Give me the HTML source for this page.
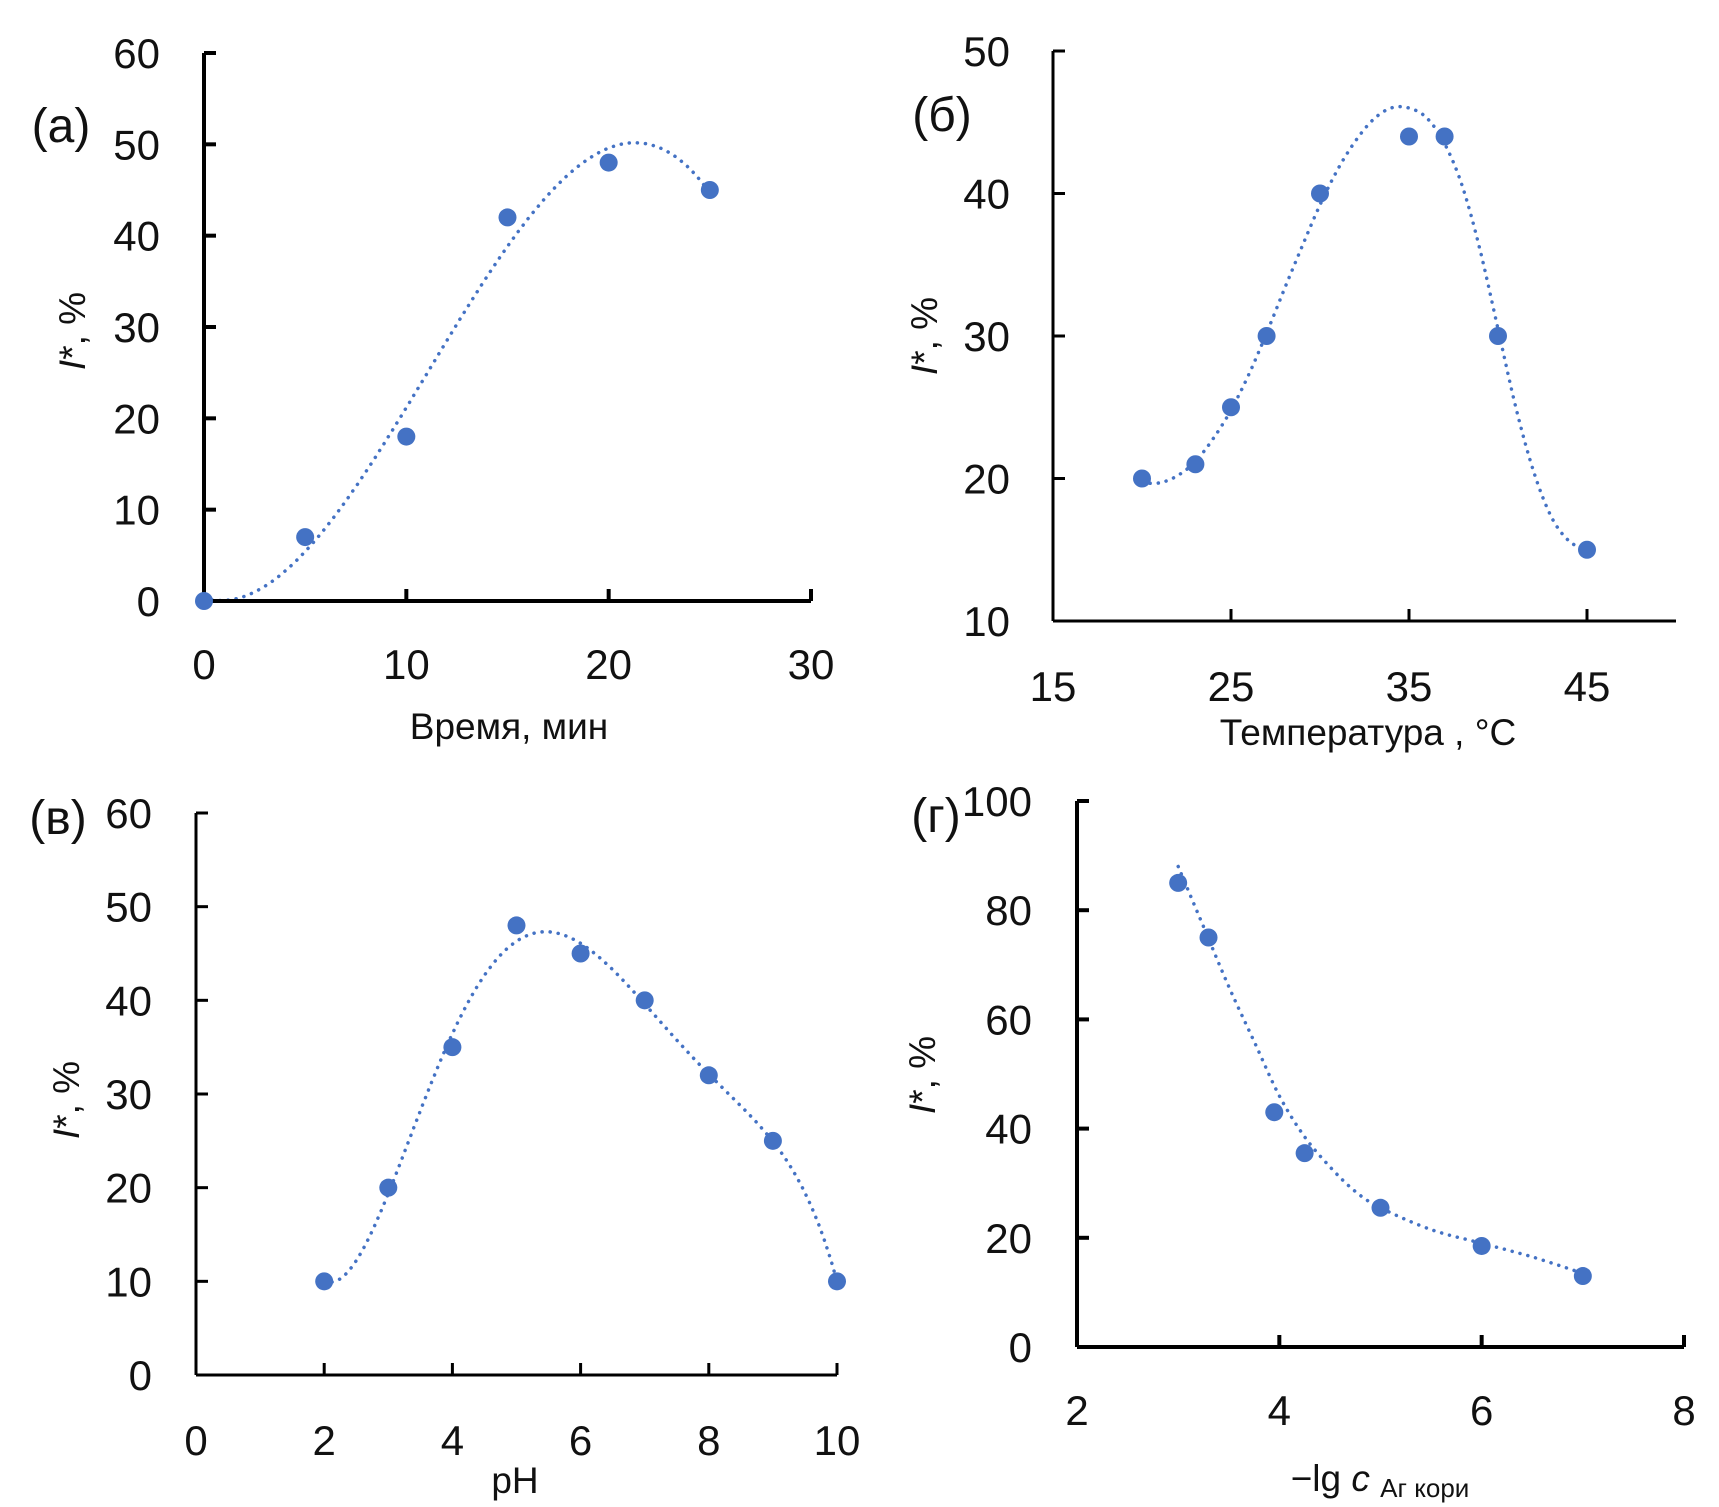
<!DOCTYPE html>
<html><head><meta charset="utf-8">
<style>
html,body{margin:0;padding:0;background:#fff;}
svg{display:block;font-family:"Liberation Sans","DejaVu Sans",sans-serif;}
</style></head>
<body>
<svg id="fig" width="1719" height="1507" viewBox="0 0 1719 1507" xmlns="http://www.w3.org/2000/svg"></svg>
<script>
// Panel (a)
const aX = [0, 5, 10, 15, 20, 25];
const aY = [0, 7, 18, 42, 48, 45];
const aXTicks = [0, 10, 20, 30];
const aYTicks = [0, 10, 20, 30, 40, 50, 60];
// Panel (б)
const bX = [20, 23, 25, 27, 30, 35, 37, 40, 45];
const bY = [20, 21, 25, 30, 40, 44, 44, 30, 15];
const bXTicks = [15, 25, 35, 45];
const bYTicks = [10, 20, 30, 40, 50];
const bTrendX = [20, 21, 22, 23, 24, 25, 26, 27, 28, 29, 30, 31, 32, 33, 34, 35, 36, 37, 38, 39, 40, 41, 42, 43, 44, 45];
const bTrendY = [19.7, 19.7, 20.2, 21.2, 22.8, 24.8, 27.3, 30.2, 33.3, 36.3, 39.2, 41.7, 43.7, 45.2, 46, 46, 45.3, 43.5, 40.5, 36, 30.5, 25, 20.5, 17.3, 15.6, 15];
// Panel (в)
const vX = [2, 3, 4, 5, 6, 7, 8, 9, 10];
const vY = [10, 20, 35, 48, 45, 40, 32, 25, 10];
const vXTicks = [0, 2, 4, 6, 8, 10];
const vYTicks = [0, 10, 20, 30, 40, 50, 60];
// Panel (г)
const gX = [3, 3.3, 3.95, 4.25, 5, 6, 7];
const gY = [85, 75, 43, 35.5, 25.5, 18.5, 13];
const gXTicks = [2, 4, 6, 8];
const gYTicks = [0, 20, 40, 60, 80, 100];
const gTrendX = [3, 3.25, 3.5, 3.75, 4, 4.25, 4.5, 4.75, 5, 5.5, 6, 6.5, 7];
const gTrendY = [88, 77, 66, 56, 46, 38.5, 33, 28.5, 25.5, 21.5, 19, 16.5, 13.5];

const NS = "http://www.w3.org/2000/svg";
const svg = document.getElementById('fig');
function mk(tag, attrs, parent){
  const e = document.createElementNS(NS, tag);
  for (const k in attrs) e.setAttribute(k, attrs[k]);
  (parent||svg).appendChild(e);
  return e;
}
function polyfit(xs, ys, deg){
  const mx = xs.reduce((a,b)=>a+b,0)/xs.length;
  const sx = Math.max(...xs.map(x=>Math.abs(x-mx)))||1;
  const n = deg+1;
  const A = Array.from({length:n},()=>new Array(n+1).fill(0));
  xs.forEach((x,i)=>{
    const t=(x-mx)/sx;
    const p=[]; for(let k=0;k<n;k++) p.push(Math.pow(t,k));
    for(let r=0;r<n;r++){ for(let c=0;c<n;c++) A[r][c]+=p[r]*p[c]; A[r][n]+=p[r]*ys[i]; }
  });
  for(let c=0;c<n;c++){
    let piv=c; for(let r=c+1;r<n;r++) if(Math.abs(A[r][c])>Math.abs(A[piv][c])) piv=r;
    [A[c],A[piv]]=[A[piv],A[c]];
    for(let r=0;r<n;r++){ if(r===c) continue; const f=A[r][c]/A[c][c]; for(let k=c;k<=n;k++) A[r][k]-=f*A[c][k]; }
  }
  const co=A.map((row,i)=>row[n]/row[i]);
  return x=>{const t=(x-mx)/sx; let s=0; for(let k=0;k<n;k++) s+=co[k]*Math.pow(t,k); return s;};
}
function smoothPath(pts){
  let d='M'+pts[0][0].toFixed(1)+','+pts[0][1].toFixed(1);
  for(let i=0;i<pts.length-1;i++){
    const p0=pts[Math.max(0,i-1)],p1=pts[i],p2=pts[i+1],p3=pts[Math.min(pts.length-1,i+2)];
    const c1=[p1[0]+(p2[0]-p0[0])/6,p1[1]+(p2[1]-p0[1])/6];
    const c2=[p2[0]-(p3[0]-p1[0])/6,p2[1]-(p3[1]-p1[1])/6];
    d+='C'+c1.map(v=>v.toFixed(1)).join(',')+' '+c2.map(v=>v.toFixed(1)).join(',')+' '+p2[0].toFixed(1)+','+p2[1].toFixed(1);
  }
  return d;
}
function panel(cfg){
  const g = mk('g', {});
  
  
  const sx = v => cfg.x0 + (v-cfg.xmin)/(cfg.xmax-cfg.xmin)*(cfg.x1-cfg.x0);
  const sy = v => cfg.y0 + (v-cfg.ymin)/(cfg.ymax-cfg.ymin)*(cfg.y1-cfg.y0);
  let d = '';
  if (cfg.trX) {
    d = smoothPath(cfg.trX.map((x,i)=>[sx(x), sy(cfg.trY[i])]));
  } else {
    const f = polyfit(cfg.xs, cfg.ys, cfg.deg);
    const lo = cfg.tx0, hi = cfg.tx1;
    for(let i=0;i<=200;i++){ const x=lo+(hi-lo)*i/200; d+=(i?'L':'M')+sx(x).toFixed(1)+','+sy(f(x)).toFixed(1); }
  }
  const tl = mk('path',{d:d,fill:'none',stroke:'#4472C4','stroke-width':3.5,'stroke-dasharray':'0.1 8','stroke-linecap':'round'},g);
  
  
  const sw = cfg.sw;
  const ya = mk('line',{x1:cfg.x0,y1:cfg.y0,x2:cfg.x0,y2:cfg.y1,stroke:'#000','stroke-width':sw},g);
  
  
  const xa = mk('line',{x1:cfg.x0,y1:cfg.y0,x2:cfg.x1,y2:cfg.y0,stroke:'#000','stroke-width':sw},g);
  
  
  cfg.yt.forEach(v=>{
    const y=sy(v);
    const tk = mk('line',{x1:cfg.x0,y1:y,x2:cfg.x0+12,y2:y,stroke:'#000','stroke-width':sw},g);
    
    
    const t = mk('text',{x:cfg.ylabX,y:y+15,'text-anchor':'end','font-size':42,fill:'#111'},g);
    t.textContent = v;
    
    
  });
  cfg.xt.forEach(v=>{
    const x=sx(v);
    const tk = mk('line',{x1:x,y1:cfg.y0,x2:x,y2:cfg.y0-12,stroke:'#000','stroke-width':sw},g);
    
    
    const t = mk('text',{x:x,y:cfg.xlabY+15,'text-anchor':'middle','font-size':42,fill:'#111'},g);
    t.textContent = v;
    
    
  });
  cfg.xs.forEach((x,i)=>{
    const c = mk('circle',{cx:sx(x),cy:sy(cfg.ys[i]),r:9,fill:'#4472C4'},g);
    
    
  });
  const xt = mk('text',{x:cfg.xtX,y:cfg.xtY+13,'text-anchor':'middle','font-size':37,fill:'#111'},g);
  xt.innerHTML = cfg.xTitle;
  
  
  const yt = mk('text',{x:0,y:0,'text-anchor':'middle','font-size':37,fill:'#111',transform:`translate(${cfg.ytX+13},${cfg.ytY}) rotate(-90)`},g);
  yt.innerHTML = '<tspan font-style="italic">I</tspan>*, %';
  
  
  const pl = mk('text',{x:cfg.plX,y:cfg.plY+17,'text-anchor':'middle','font-size':48,fill:'#111'},g);
  pl.textContent = cfg.label;
  
  
}
panel({name:'panel-a',xs:aX,ys:aY,xt:aXTicks,yt:aYTicks,xmin:0,xmax:30,ymin:0,ymax:60,
  x0:204,x1:811,y0:601,y1:53,sw:4,deg:3,tx0:0,tx1:25,ylabX:160,xlabY:664,
  xTitle:'Время, мин',xtX:509,xtY:726,ytX:72,ytY:331,label:'(a)',plX:61,plY:125});
panel({name:'panel-b',xs:bX,ys:bY,xt:bXTicks,yt:bYTicks,xmin:15,xmax:50,ymin:10,ymax:50,
  x0:1053,x1:1676,y0:621,y1:51,sw:3,trX:bTrendX,trY:bTrendY,ylabX:1010,xlabY:686,
  xTitle:'Температура  , °С',xtX:1368,xtY:732,ytX:924,ytY:336,label:'(б)',plX:942,plY:114});
panel({name:'panel-v',xs:vX,ys:vY,xt:vXTicks,yt:vYTicks,xmin:0,xmax:10,ymin:0,ymax:60,
  x0:196,x1:837,y0:1375,y1:813,sw:3,deg:5,tx0:2,tx1:10,ylabX:152,xlabY:1440,
  xTitle:'pH',xtX:515,xtY:1480,ytX:66,ytY:1100,label:'(в)',plX:58,plY:817});
panel({name:'panel-g',xs:gX,ys:gY,xt:gXTicks,yt:gYTicks,xmin:2,xmax:8,ymin:0,ymax:100,
  x0:1077,x1:1684,y0:1347,y1:801,sw:4,trX:gTrendX,trY:gTrendY,ylabX:1032,xlabY:1410,
  xTitle:'−lg <tspan font-style="italic">c</tspan> <tspan font-size="26" dy="6">Аг кори</tspan>',xtX:1380,xtY:1478,ytX:922,ytY:1075,label:'(г)',plX:936,plY:815});
</script>
</body></html>
